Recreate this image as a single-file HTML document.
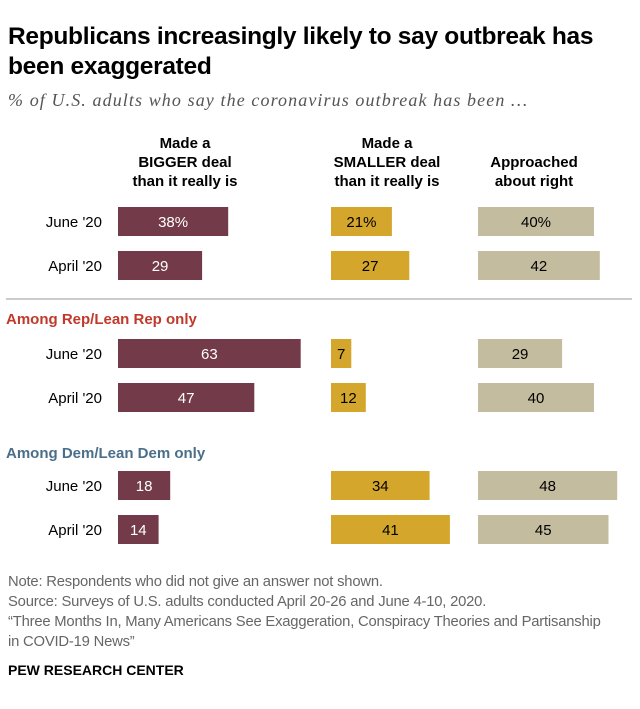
<!DOCTYPE html>
<html><head><meta charset="utf-8"><style>
body{margin:0;width:640px;height:709px;background:#fff;font-family:"Liberation Sans",Arial,sans-serif;overflow:hidden;position:relative}
.t{position:absolute;white-space:nowrap}
</style></head><body>
<div class="t" style="left:8px;top:22px;font-size:24.5px;font-weight:bold;line-height:30px;color:#000;letter-spacing:-0.3px">Republicans increasingly likely to say outbreak has<br>been exaggerated</div>
<div class="t" style="left:8px;top:90px;font-size:18px;letter-spacing:1.1px;font-style:italic;font-family:'Liberation Serif',serif;color:#555">% of U.S. adults who say the coronavirus outbreak has been …</div>
<svg id="chart" width="640" height="709" style="position:absolute;left:0;top:0" font-family="Liberation Sans, Arial, sans-serif"></svg>
<div class="t" style="left:8px;top:572px;font-size:14.8px;color:#666;line-height:20px;letter-spacing:-0.2px">Note: Respondents who did not give an answer not shown.<br>Source: Surveys of U.S. adults conducted April 20-26 and June 4-10, 2020.<br>“Three Months In, Many Americans See Exaggeration, Conspiracy Theories and Partisanship<br>in COVID-19 News”</div>
<div class="t" style="left:8px;top:662px;font-size:14px;font-weight:bold;color:#000">PEW RESEARCH CENTER</div>
<script>
const groups=["All","Rep","Dem"];
const rowLabels=["June '20","April '20"];
const bigger=[38,29,63,47,18,14];
const smaller=[21,27,7,12,34,41];
const right=[40,42,29,40,48,45];
const svg=document.getElementById('chart');
const NS='http://www.w3.org/2000/svg';
const scale=v=>v*2.9;
const colStarts=[118,331,478];
const rowY=[207,251,339,383,471,515];
const series=[bigger,smaller,right];
const colors=['#733b4a','#d4a62c','#c4bc9f'];
const txtCol=['#fff','#000','#000'];
const sNames=['bigger','smaller','right'];
function mk(tag,attrs){const e=document.createElementNS(NS,tag);for(const k in attrs)e.setAttribute(k,attrs[k]);svg.appendChild(e);return e;}
const heads=[["Made a","BIGGER deal","than it really is"],["Made a","SMALLER deal","than it really is"],["Approached","about right"]];
const headCx=[185,387,534];
heads.forEach((h,i)=>{h.forEach((line,j)=>{const off=h.length===2?1:0;const t=mk('text',{x:headCx[i],y:148+(off+j)*19,'text-anchor':'middle','font-size':15,'font-weight':'bold',fill:'#000'});t.textContent=line;

});});
mk('line',{x1:6,x2:632,y1:299,y2:299,stroke:'#ccc','stroke-width':2});
for(let r=0;r<6;r++){
 const y=rowY[r];
 const lb=mk('text',{x:102,y:y+20,'text-anchor':'end','font-size':15,fill:'#000'});lb.textContent=rowLabels[r%2];
 
 
 series.forEach((s,c)=>{
  const w=scale(s[r]);
  const b=mk('rect',{x:colStarts[c],y:y,width:w,height:29,fill:colors[c]});
  
  
  const tx=mk('text',{x:colStarts[c]+w/2,y:y+20,'text-anchor':'middle','font-size':15,fill:txtCol[c]});
  tx.textContent=s[r]+(r===0?'%':'');
  
  
 });
}
const h1=mk('text',{x:6,y:324,'font-size':15,'font-weight':'bold',fill:'#c0392b'});h1.textContent='Among Rep/Lean Rep only';


const h2=mk('text',{x:6,y:458,'font-size':15,'font-weight':'bold',fill:'#4a6f8a'});h2.textContent='Among Dem/Lean Dem only';


</script>
</body></html>
